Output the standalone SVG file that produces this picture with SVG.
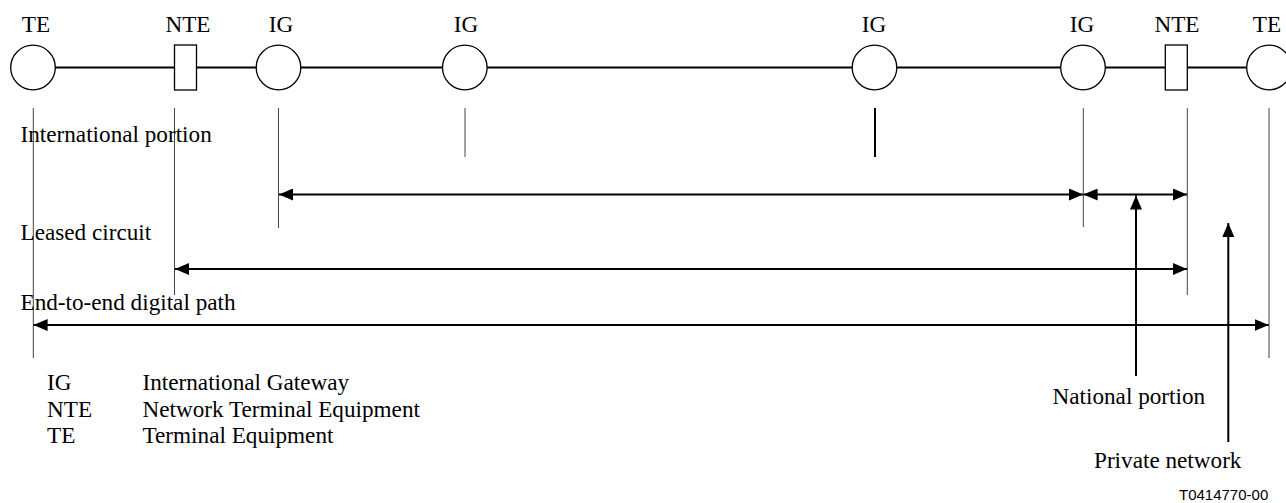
<svg xmlns="http://www.w3.org/2000/svg" width="1286" height="503" viewBox="0 0 1286 503">
<style>
text{font-family:"Liberation Serif","Times New Roman",serif;font-size:23.2px;fill:#000}
.code{font-family:"Liberation Sans",Arial,sans-serif;font-size:15px}
.node{fill:#fff;stroke:#000;stroke-width:1.3}
.main{stroke:#000;stroke-width:2;fill:none}
.tick{stroke:#444;stroke-width:1;fill:none}
.arr{stroke:#000;stroke-width:2;fill:none}
</style>
<defs>
<marker id="ah" viewBox="0 0 14 12" refX="14" refY="6" markerWidth="14" markerHeight="12" markerUnits="userSpaceOnUse" orient="auto-start-reverse">
<path d="M0,0 L14,6 L0,12 Z" fill="#000"/>
</marker>
</defs>
<g id="connectors">
<line class="main" x1="55" y1="67.5" x2="1247" y2="67.5"/>
<line class="tick" x1="33.3" y1="108" x2="33.3" y2="358"/>
<line class="tick" x1="174.5" y1="108" x2="174.5" y2="295"/>
<line class="tick" x1="278.5" y1="108" x2="278.5" y2="228"/>
<line class="tick" x1="465" y1="108" x2="465" y2="157"/>
<line x1="875" y1="108" x2="875" y2="157" stroke="#000" stroke-width="2"/>
<line class="tick" x1="1083.3" y1="108" x2="1083.3" y2="227"/>
<line class="tick" x1="1187.3" y1="108" x2="1187.3" y2="295"/>
<line class="tick" x1="1269" y1="108" x2="1269" y2="358"/>
<line class="arr" x1="279" y1="194.5" x2="1083" y2="194.5" marker-start="url(#ah)" marker-end="url(#ah)"/>
<line class="arr" x1="1083.6" y1="194.5" x2="1187" y2="194.5" marker-start="url(#ah)" marker-end="url(#ah)"/>
<line class="arr" x1="175" y1="269" x2="1187" y2="269" marker-start="url(#ah)" marker-end="url(#ah)"/>
<line class="arr" x1="33.6" y1="325" x2="1268.7" y2="325" marker-start="url(#ah)" marker-end="url(#ah)"/>
<line class="arr" x1="1136" y1="376" x2="1136" y2="195.5" marker-end="url(#ah)"/>
<line class="arr" x1="1228.3" y1="442" x2="1228.3" y2="223" marker-end="url(#ah)"/>
</g>
<g id="te1"><circle class="node" cx="33" cy="67.5" r="22.3"/><text x="36" y="31.5" text-anchor="middle">TE</text></g>
<g id="nte1"><rect class="node" x="174.5" y="45" width="22" height="45"/><text x="188" y="31.5" text-anchor="middle">NTE</text></g>
<g id="ig1"><circle class="node" cx="278.5" cy="67.5" r="22.3"/><text x="281" y="31.5" text-anchor="middle">IG</text></g>
<g id="ig2"><circle class="node" cx="464.8" cy="67.5" r="22.3"/><text x="466" y="31.5" text-anchor="middle">IG</text></g>
<g id="ig3"><circle class="node" cx="874.5" cy="67.5" r="22.3"/><text x="874" y="31.5" text-anchor="middle">IG</text></g>
<g id="ig4"><circle class="node" cx="1083" cy="67.5" r="22.3"/><text x="1082" y="31.5" text-anchor="middle">IG</text></g>
<g id="nte2"><rect class="node" x="1165.3" y="45" width="22" height="45"/><text x="1177" y="31.5" text-anchor="middle">NTE</text></g>
<g id="te2"><circle class="node" cx="1269" cy="67.5" r="22.3"/><text x="1267" y="31.5" text-anchor="middle">TE</text></g>
<g id="labels">
<text x="20.5" y="141.5">International portion</text>
<text x="20.5" y="240">Leased circuit</text>
<text x="20.5" y="310">End-to-end digital path</text>
<text x="1052.5" y="404">National portion</text>
<text x="1094" y="468">Private network</text>
<text class="code" x="1179" y="500">T0414770-00</text>
</g>
<g id="legend">
<text x="47" y="390">IG</text>
<text x="142.5" y="390">International Gateway</text>
<text x="47" y="416.5">NTE</text>
<text x="142.5" y="416.5">Network Terminal Equipment</text>
<text x="47" y="443">TE</text>
<text x="142.5" y="443">Terminal Equipment</text>
</g>
</svg>
